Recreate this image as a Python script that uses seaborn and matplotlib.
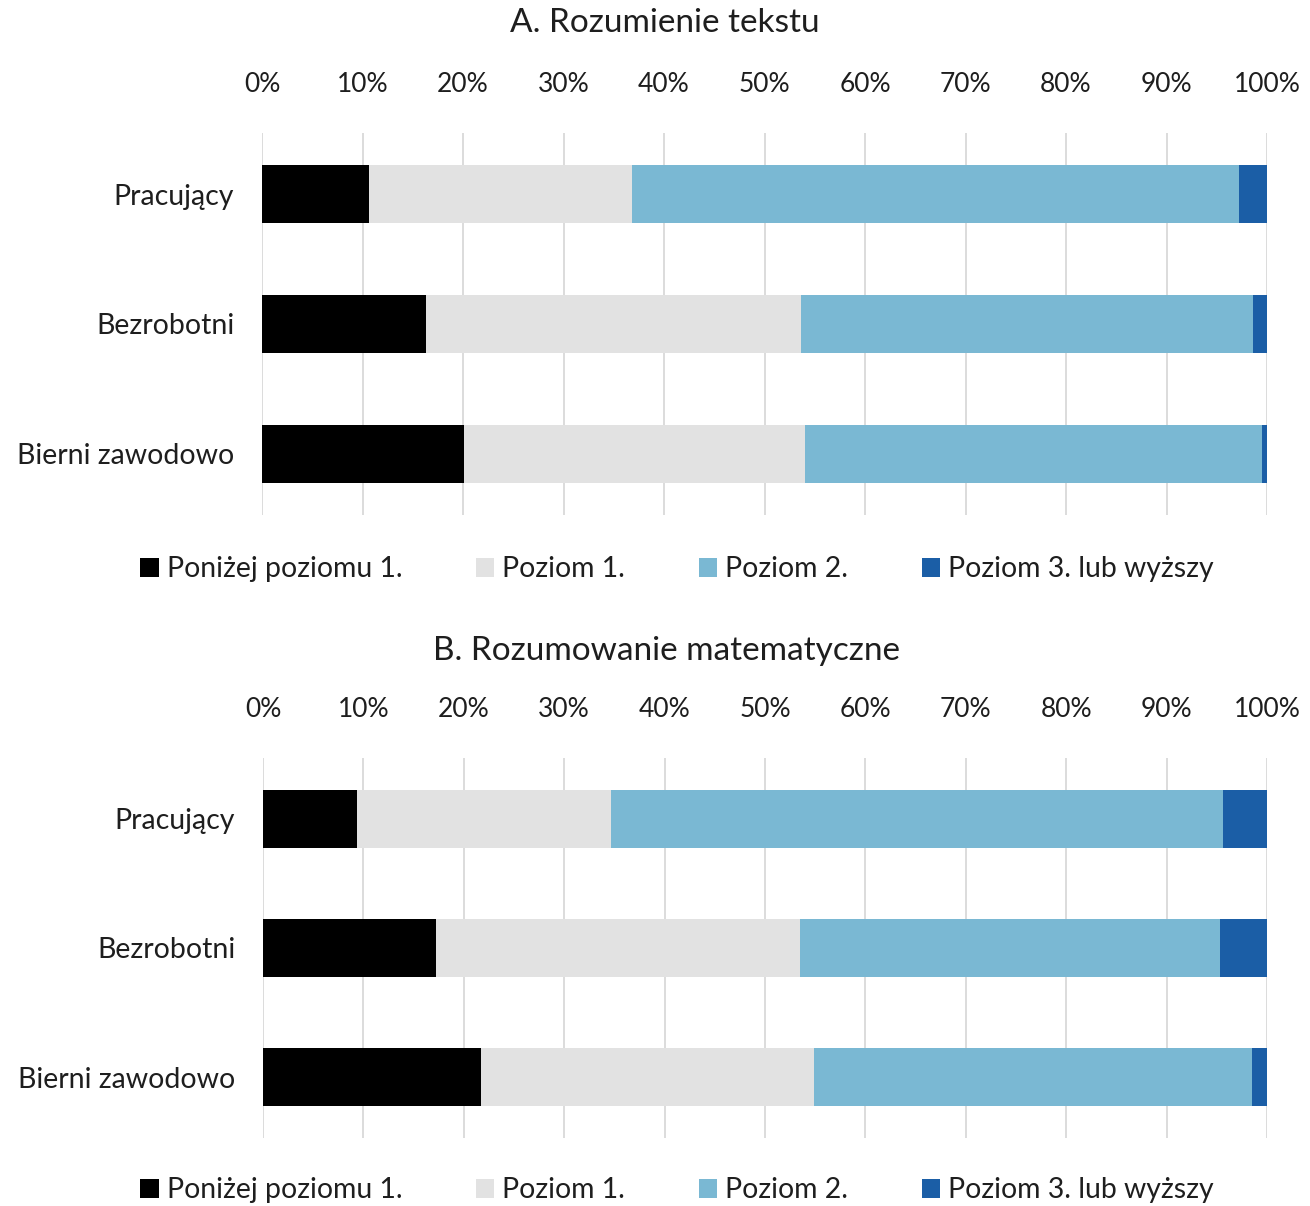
import matplotlib
matplotlib.use("Agg")
import matplotlib.pyplot as plt
from matplotlib.patches import Patch
import numpy as np
import pandas as pd
import seaborn as sns

groups = ["Pracujący", "Bezrobotni", "Bierni zawodowo"]
levels = ["Poniżej poziomu 1.", "Poziom 1.", "Poziom 2.", "Poziom 3. lub wyższy"]
colors = ["#000000", "#E2E2E2", "#7AB8D3", "#1B5EA6"]

# A. Rozumienie tekstu (percent shares)
text_below1 = [10.6, 16.3, 20.1]
text_lvl1 = [26.2, 37.3, 33.9]
text_lvl2 = [60.4, 45.0, 45.5]
text_lvl3 = [2.8, 1.4, 0.5]

# B. Rozumowanie matematyczne
math_below1 = [9.4, 17.2, 21.7]
math_lvl1 = [25.3, 36.3, 33.2]
math_lvl2 = [60.9, 41.8, 43.6]
math_lvl3 = [4.4, 4.7, 1.5]

ticks = np.arange(0, 101, 10)
tick_labels = [f"{t}%" for t in ticks]

sns.set_theme(style="white")
plt.rcParams["font.family"] = ["Lato", "DejaVu Sans"]
TEXT = "#1E1E1E"


def stacked_panel(ax, parts):
    df = pd.DataFrame({"group": groups})
    cum = np.cumsum(np.array(parts), axis=0)
    # draw from the full stack down so shorter segments sit on top
    for i in range(len(levels) - 1, -1, -1):
        df["value"] = cum[i]
        sns.barplot(data=df, x="value", y="group", orient="h", color=colors[i],
                    width=0.45, saturation=1, linewidth=0, ax=ax)
    ax.set_xlim(0, 100)
    ax.set_ylim(2.47, -0.47)
    ax.set_xticks(ticks)
    ax.set_xticklabels(tick_labels)
    ax.xaxis.tick_top()
    ax.tick_params(axis="x", length=0, pad=26, labelsize=19, labelcolor=TEXT)
    ax.tick_params(axis="y", length=0, pad=20, labelsize=20.5, labelcolor=TEXT)
    ax.set_xlabel("")
    ax.set_ylabel("")
    ax.grid(axis="x", color="#D9D9D9", linewidth=1.3)
    ax.set_axisbelow(True)
    sns.despine(ax=ax, left=True, bottom=True, top=True, right=True)


fig = plt.figure(figsize=(13.1, 12.06), dpi=100)
W, H = 1310, 1206
axA = fig.add_axes([262 / W, 1 - 515 / H, (1267 - 262) / W, (515 - 133) / H])
axB = fig.add_axes([263 / W, 1 - 1138 / H, (1267 - 263) / W, (1138 - 758) / H])

stacked_panel(axA, [text_below1, text_lvl1, text_lvl2, text_lvl3])
stacked_panel(axB, [math_below1, math_lvl1, math_lvl2, math_lvl3])

fig.text(665 / W, 1 - 23 / H, "A. Rozumienie tekstu", ha="center", va="center",
         fontsize=24, color=TEXT)
fig.text(666 / W, 1 - 651 / H, "B. Rozumowanie matematyczne", ha="center", va="center",
         fontsize=24, color=TEXT)

handles = [Patch(facecolor=c, edgecolor="none", label=l) for c, l in zip(colors, levels)]
for ycen in (569, 1190):
    fig.legend(handles=handles, loc="center", bbox_to_anchor=(677 / W, 1 - ycen / H),
               ncol=4, frameon=False, fontsize=20.4, handlelength=0.65, handleheight=0.65,
               handletextpad=0.28, columnspacing=2.6, labelcolor=TEXT)

fig.savefig("out.png", dpi=100)
